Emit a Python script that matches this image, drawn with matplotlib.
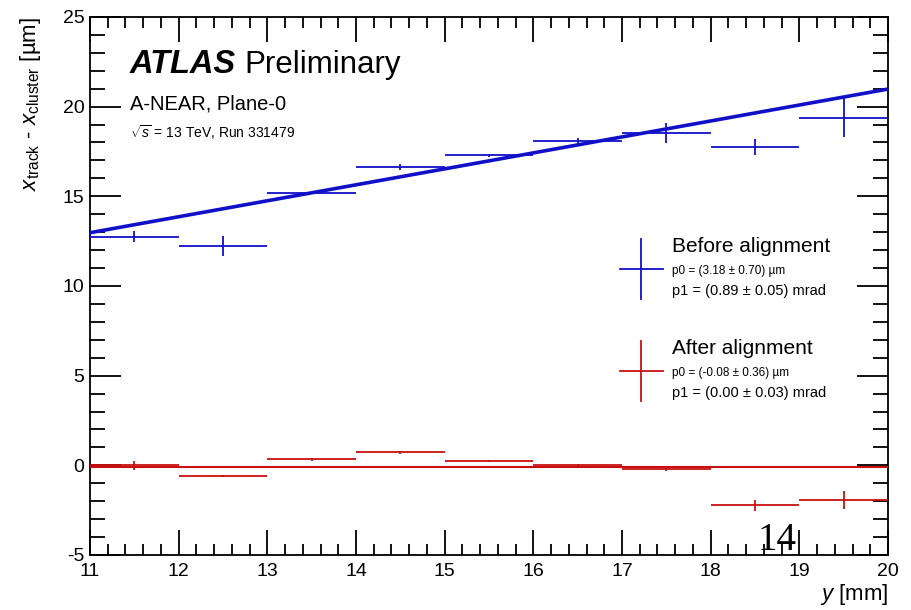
import numpy as np
import matplotlib.pyplot as plt
from matplotlib.ticker import MultipleLocator

plt.rcParams['font.family'] = ['Liberation Sans', 'DejaVu Sans']
plt.rcParams['mathtext.fontset'] = 'custom'
plt.rcParams['mathtext.rm'] = 'Liberation Sans'
plt.rcParams['mathtext.it'] = 'Liberation Sans:italic'
plt.rcParams['axes.unicode_minus'] = False

# Residual vs y, bins of 1 mm
bin_centers = [11.5, 12.5, 13.5, 14.5, 15.5, 16.5, 17.5, 18.5, 19.5]
bin_half = 0.5

before_vals = [12.75, 12.23, 15.21, 16.64, 17.28, 18.08, 18.51, 17.77, 19.39]
before_errs = [0.30, 0.55, 0.10, 0.15, 0.10, 0.15, 0.55, 0.45, 1.10]

after_vals = [0.0, -0.61, 0.33, 0.72, 0.22, 0.02, -0.19, -2.24, -1.94]
after_errs = [0.25, 0.05, 0.08, 0.10, 0.06, 0.05, 0.15, 0.28, 0.50]

# Linear fit results: p0 [um], p1 [mrad]
before_fit = (3.18, 0.89)
after_fit = (-0.08, 0.00)

blue = '#1010c8'
red = '#c81010'

fig = plt.figure(figsize=(9.12, 6.10), dpi=100)
ax = fig.add_axes([0.0987, 0.0902, 0.875, 0.882])

xs = np.array([11, 20])
ax.plot(xs, before_fit[0] + before_fit[1] * xs, color=blue, lw=2.6, zorder=3)
ax.plot(xs, after_fit[0] + after_fit[1] * xs, color=red, lw=1.5, zorder=3)

ax.errorbar(bin_centers, before_vals, xerr=bin_half, yerr=before_errs, fmt='none',
            ecolor=blue, elinewidth=1.3, capsize=0, zorder=4)
ax.errorbar(bin_centers, after_vals, xerr=bin_half, yerr=after_errs, fmt='none',
            ecolor=red, elinewidth=1.3, capsize=0, zorder=4)

ax.set_xlim(11, 20)
ax.set_ylim(-5, 25)
ax.xaxis.set_major_locator(MultipleLocator(1))
ax.xaxis.set_minor_locator(MultipleLocator(0.2))
ax.yaxis.set_major_locator(MultipleLocator(5))
ax.yaxis.set_minor_locator(MultipleLocator(1))
ax.tick_params(which='both', direction='in', top=True, right=True, width=1.3,
               labelsize=14, colors='black')
ax.tick_params(which='major', axis='x', length=18, pad=6)
ax.tick_params(which='minor', axis='x', length=8)
ax.tick_params(which='major', axis='y', length=22, pad=4)
ax.tick_params(which='minor', axis='y', length=11)
for s in ax.spines.values():
    s.set_linewidth(1.3)

ax.set_xlabel(r'$y$ [mm]', fontsize=16, loc='right', labelpad=1)
ax.set_ylabel(r'$x_{\rm track}$ - $x_{\rm cluster}$ [µm]', fontsize=16, loc='top', labelpad=14)

# ATLAS label
ax.text(0.05, 0.895, 'ATLAS', transform=ax.transAxes, fontsize=23.5,
        fontweight='bold', fontstyle='italic')
ax.text(0.194, 0.895, 'Preliminary', transform=ax.transAxes, fontsize=22.5)
ax.text(0.05, 0.828, 'A-NEAR, Plane-0', transform=ax.transAxes, fontsize=14.5)
ax.text(0.05, 0.775, r'$\sqrt{s}$ = 13 TeV, Run 331479', transform=ax.transAxes, fontsize=10)

# Legend entries
def legend_entry(ypos, color, title, p0, p1):
    ax.plot([0.664, 0.718], [ypos, ypos], color=color, lw=1.3, transform=ax.transAxes)
    ax.plot([0.691, 0.691], [ypos - 0.056, ypos + 0.056], color=color, lw=1.3,
            transform=ax.transAxes)
    ax.text(0.729, ypos + 0.041, title, transform=ax.transAxes, fontsize=15, va='center')
    ax.text(0.729, ypos - 0.004, p0, transform=ax.transAxes, fontsize=8.5, va='center')
    ax.text(0.729, ypos - 0.041, p1, transform=ax.transAxes, fontsize=10.5, va='center')

legend_entry(0.532, blue, 'Before alignment',
             'p0 = (%.2f ± 0.70) µm' % before_fit[0],
             'p1 = (%.2f ± 0.05) mrad' % before_fit[1])
legend_entry(0.342, red, 'After alignment',
             'p0 = (%.2f ± 0.36) µm' % after_fit[0],
             'p1 = (%.2f ± 0.03) mrad' % after_fit[1])

fig.text(0.852, 0.098, '14', fontsize=28, family='Liberation Serif', ha='center')

fig.savefig('out.png', dpi=100)
